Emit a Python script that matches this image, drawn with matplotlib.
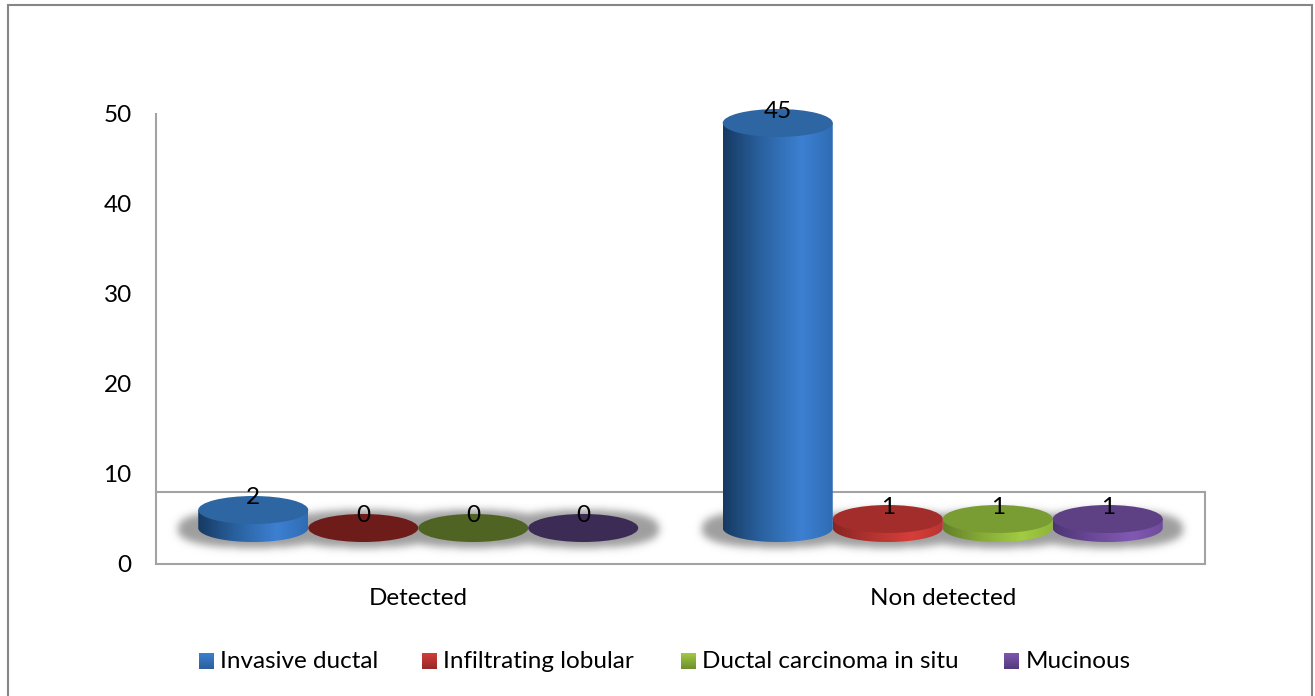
import numpy as np
import matplotlib
matplotlib.use("Agg")
import matplotlib.pyplot as plt
from matplotlib.colors import LinearSegmentedColormap, to_rgb
from matplotlib.patches import Ellipse, PathPatch
from matplotlib.path import Path

categories = ["Detected", "Non detected"]
series = ["Invasive ductal", "Infiltrating lobular", "Ductal carcinoma in situ", "Mucinous"]
values = [
    [2, 0, 0, 0],
    [45, 1, 1, 1],
]
y_ticks = [0, 10, 20, 30, 40, 50]

# side gradient stops, top face colour, colour of a zero height disc
side_colors = [
    ["#163a63", "#2a62a0", "#3d80d2", "#2f6cb4"],
    ["#8a2523", "#b23330", "#d63e3a", "#b93532"],
    ["#64802a", "#86aa37", "#a2cc42", "#8fb53a"],
    ["#4d3573", "#6a4898", "#8159b2", "#6e4c9c"],
]
top_colors = ["#2e66a3", "#a32d2a", "#7a9d33", "#5e4084"]
zero_colors = ["#2e66a3", "#6d1c1a", "#4f6423", "#3c2b55"]
legend_colors = [("#3d7fcf", "#2c5f9c"), ("#d13d3a", "#962927"), ("#9fca41", "#6f8f2e"), ("#7d57ad", "#553a7d")]

plt.rcParams["font.family"] = ["Lato", "DejaVu Sans"]
font_size = 17.5

W, H = 1315, 696
fig = plt.figure(figsize=(W / 100, H / 100), dpi=100)
ax = fig.add_axes([156 / W, 1 - 564 / H, (1205 - 156) / W, (564 - 114) / H])
ax.set_xlim(-0.5, 1.5)
ax.set_ylim(0, 50)

px_x = 2 / (1205 - 156)   # data units per pixel, x
px_y = 50 / (564 - 114)   # data units per pixel, y

floor = 4            # the 3d floor lifts every column by this much
bar_w = 110 * px_x
ry = 14 * px_y       # half height of the disc


def blur(img, sigma):
    # separable gaussian, one pixel per sample
    r = int(3 * sigma)
    k = np.exp(-0.5 * (np.arange(-r, r + 1) / sigma) ** 2)
    k /= k.sum()
    img = np.apply_along_axis(lambda c: np.convolve(c, k, mode="same"), 0, img)
    return np.apply_along_axis(lambda c: np.convolve(c, k, mode="same"), 1, img)


# soft shadow under the columns: blurred union of wide discs
xs = np.linspace(-0.5, 1.5, 1049)
ys = np.linspace(0, 10, 90)
xx, yy = np.meshgrid(xs, ys)
shadow = np.zeros_like(xx)
for g in range(len(categories)):
    for s in range(len(series)):
        xc = g + (s - 1.5) * bar_w
        dx = np.abs(xx - xc) / (76 * px_x)
        dy = np.abs(yy - (floor - 1 * px_y)) / (19 * px_y)
        shadow = np.maximum(shadow, (dx ** 2.5 + dy ** 2.5 < 1).astype(float))
shadow = blur(shadow, 4)
rgba = np.zeros(shadow.shape + (4,))
rgba[..., :3] = 0.62
rgba[..., 3] = shadow
ax.imshow(rgba, extent=[-0.5, 1.5, 0, 10], origin="lower", aspect="auto", zorder=1, interpolation="bilinear")

# columns
for g in range(len(categories)):
    for s in range(len(series)):
        v = values[g][s]
        xc = g + (s - 1.5) * bar_w
        top = floor + v
        if v > 0:
            t = np.linspace(np.pi, 2 * np.pi, 80)
            verts = [(xc - bar_w / 2, top)]
            verts += list(zip(xc + bar_w / 2 * np.cos(t), floor + ry * np.sin(t)))
            verts += [(xc + bar_w / 2, top), (xc - bar_w / 2, top)]
            side = PathPatch(Path(verts), fc="none", ec="none", zorder=3 + s)
            ax.add_patch(side)
            cmap = LinearSegmentedColormap.from_list("side", [
                (0.0, side_colors[s][0]), (0.35, side_colors[s][1]),
                (0.72, side_colors[s][2]), (1.0, side_colors[s][3])])
            img = ax.imshow(np.linspace(0, 1, 200)[None, :], cmap=cmap, aspect="auto", zorder=3 + s,
                            extent=[xc - bar_w / 2, xc + bar_w / 2, floor - ry, top])
            img.set_clip_path(side)
            face = top_colors[s]
        else:
            face = zero_colors[s]
        ax.add_patch(Ellipse((xc, top), bar_w, 2 * ry, fc=face, ec="none", zorder=3 + s, clip_on=False))
        ax.text(xc, top + ry - 2 * px_y, str(v), ha="center", va="center",
                fontsize=font_size, color="black", zorder=10)

ax.set_xlim(-0.5, 1.5)
ax.set_ylim(0, 50)

# axes and the box of the floor
axis_gray = "#a3a3a3"
for name in ["top", "right"]:
    ax.spines[name].set_visible(False)
for name in ["left", "bottom"]:
    ax.spines[name].set_color(axis_gray)
    ax.spines[name].set_linewidth(1.5)
ax.plot([-0.5, 1.5], [8, 8], color=axis_gray, lw=1.5, zorder=2, clip_on=False)
ax.plot([1.5, 1.5], [0, 8], color=axis_gray, lw=1.5, zorder=2, clip_on=False)

ax.set_xticks(range(len(categories)), categories)
ax.set_yticks(y_ticks)
ax.tick_params(axis="both", length=0, labelsize=font_size)
ax.tick_params(axis="x", pad=17)
ax.tick_params(axis="y", pad=17.5)

# overlay in pixel units for the outer frame and the legend
over = fig.add_axes([0, 0, 1, 1], zorder=5)
over.set_xlim(0, W)
over.set_ylim(H, 0)
over.axis("off")
over.plot([8, 8, 1312, 1312], [H + 5, 5, 5, H + 5], color="#868686", lw=1.5, solid_joinstyle="miter")

legend_x = [199, 422, 681, 1004]
text_x = [220, 443, 702, 1026]
for i, name in enumerate(series):
    c1, c2 = [np.array(to_rgb(c)) for c in legend_colors[i]]
    grad = np.linspace(c1, c2, 32)[:, None, :]
    over.imshow(grad, extent=[legend_x[i], legend_x[i] + 15, 669, 653], aspect="auto", zorder=3)
    over.text(text_x[i], 662, name, ha="left", va="center", fontsize=font_size, color="black")
over.set_xlim(0, W)
over.set_ylim(H, 0)

fig.savefig("out.png", dpi=100, facecolor="white")
